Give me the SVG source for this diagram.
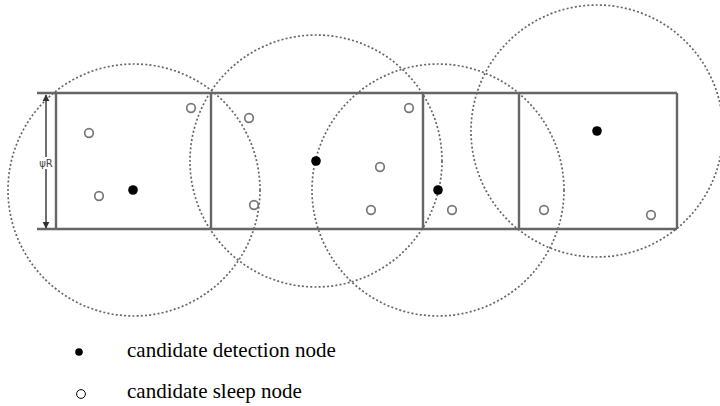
<svg xmlns="http://www.w3.org/2000/svg" width="720" height="406" viewBox="0 0 720 406">
<defs>
<marker id="ah" viewBox="0 0 10 10" refX="9" refY="5" markerWidth="7" markerHeight="8" markerUnits="userSpaceOnUse" orient="auto-start-reverse">
<path d="M0,0 L10,5 L0,10 z" fill="#333"/>
</marker>
</defs>
<style>
.range{fill:none;stroke:#666;stroke-width:1.7;stroke-dasharray:2 2.2}
.frame{stroke:#666;stroke-width:2.4;fill:none}
.det{fill:#000}
.slp{fill:#fff;stroke:#777;stroke-width:1.7}
.lbl{font-family:"Liberation Serif","Times New Roman",serif;font-size:21px;fill:#000}
.small{font-family:"DejaVu Sans","Liberation Sans",sans-serif;font-size:10px;fill:#444}
</style>
<rect width="720" height="406" fill="#fff"/>
<g id="ranges">
<circle class="range" cx="134" cy="190" r="126"/>
<circle class="range" cx="316" cy="161" r="126"/>
<circle class="range" cx="438" cy="190" r="126"/>
<circle class="range" cx="597" cy="131" r="126"/>
</g>
<g id="frame">
<line class="frame" x1="37" y1="93" x2="677" y2="93"/>
<line class="frame" x1="37" y1="229" x2="677" y2="229"/>
<line class="frame" x1="56" y1="93" x2="56" y2="229"/>
<line class="frame" x1="211" y1="93" x2="211" y2="229"/>
<line class="frame" x1="423" y1="93" x2="423" y2="229"/>
<line class="frame" x1="519" y1="93" x2="519" y2="229"/>
<line class="frame" x1="677" y1="93" x2="677" y2="229"/>
</g>
<g id="connectors">
<line x1="46" y1="95" x2="46" y2="228" stroke="#333" stroke-width="1.4" marker-start="url(#ah)" marker-end="url(#ah)"/>
<rect x="37" y="157" width="17" height="12" fill="#fff"/>
<text class="small" x="46" y="167" text-anchor="middle">ψR</text>
</g>
<g id="detection-nodes">
<circle id="d1" class="det" cx="133" cy="190" r="4.8"/>
<circle id="d2" class="det" cx="316" cy="161" r="4.8"/>
<circle id="d3" class="det" cx="438" cy="190" r="4.8"/>
<circle id="d4" class="det" cx="597" cy="131" r="4.8"/>
</g>
<g id="sleep-nodes">
<circle id="s1" class="slp" cx="89" cy="133" r="4.3"/>
<circle id="s2" class="slp" cx="191" cy="108" r="4.3"/>
<circle id="s3" class="slp" cx="99" cy="196" r="4.3"/>
<circle id="s4" class="slp" cx="249" cy="118" r="4.3"/>
<circle id="s5" class="slp" cx="254" cy="205" r="4.3"/>
<circle id="s6" class="slp" cx="409" cy="108" r="4.3"/>
<circle id="s7" class="slp" cx="380" cy="167" r="4.3"/>
<circle id="s8" class="slp" cx="371" cy="210" r="4.3"/>
<circle id="s9" class="slp" cx="452" cy="210" r="4.3"/>
<circle id="s10" class="slp" cx="544" cy="210" r="4.3"/>
<circle id="s11" class="slp" cx="651" cy="215" r="4.3"/>
</g>
<g id="legend">
<circle cx="79" cy="352" r="3.8" fill="#000"/>
<text class="lbl" x="127" y="357">candidate detection node</text>
<circle cx="81" cy="394" r="4.4" fill="none" stroke="#000" stroke-width="1"/>
<text class="lbl" x="127" y="398">candidate sleep node</text>
</g>
</svg>
